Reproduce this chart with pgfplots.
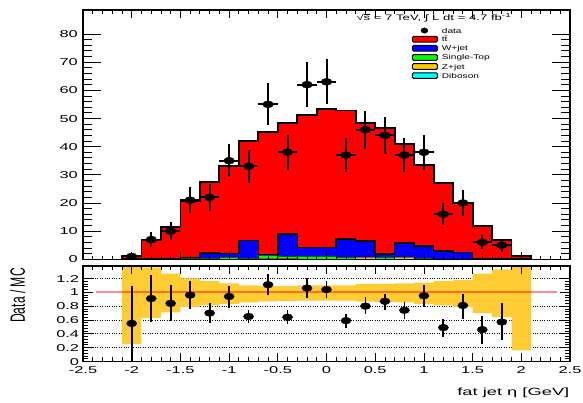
\documentclass[border=0pt]{standalone}
\usepackage{fontspec}
\setmainfont{Liberation Sans}
\newfontfamily\tickfont[FakeStretch=1.65]{Liberation Sans}
\newfontfamily\labfont[FakeStretch=1.75]{Liberation Sans}
\newfontfamily\legfont[FakeStretch=1.45]{Liberation Sans}
\usepackage{graphicx}
\usepackage{pgfplots}
\pgfplotsset{compat=1.18}
\usepackage{pgfplotstable}
\usepgfplotslibrary{fillbetween}

\definecolor{cTT}{RGB}{255,0,0}
\definecolor{cW}{RGB}{0,0,255}
\definecolor{cST}{RGB}{0,255,0}
\definecolor{cZ}{RGB}{255,204,0}
\definecolor{cVV}{RGB}{0,255,255}
\definecolor{cBand}{RGB}{255,204,51}

\pgfplotsset{
  layers/mylayers/.define layer set={axis background,axis grid,pre main,main,axis ticks,axis lines,axis tick labels,axis descriptions,axis foreground}{/pgfplots/layers/standard},
}

% stacked MC: left bin edge, cumulative levels (T = total, L4 = up to W+jet, L3 = up to Single-Top, L2 = up to Z+jet, L1 = Diboson)
\pgfplotstableread{
x     T     L4    L3    L2    L1
-2.1  1.2   0     0     0     0
-1.9  6.9   0     0     0     0
-1.7  11.4  0.1   0.1   0     0
-1.5  20.5  0.4   0.3   0     0
-1.3  27.3  2.3   0.2   0     0
-1.1  33.2  2.1   0.7   0     0
-0.9  41.9  6.7   0.3   0     0
-0.7  45.3  1.5   1.2   0.4   0
-0.5  48.3  8.9   0.9   0.3   0
-0.3  51.2  4.1   1.0   0     0
-0.1  53.3  4.2   1.0   0     0
0.1   52.8  7.2   0.6   0     0
0.3   48.3  6.5   0.7   0.5   0
0.5   46.5  1.8   0.6   0     0
0.7   40.8  5.7   0.6   0.5   0
0.9   33.5  4.8   0.2   0     0
1.1   27.2  2.9   0.1   0     0
1.3   20.1  2.4   0.1   0     0
1.5   11.8  0     0     0     0
1.7   6.9   0     0     0     0
1.9   1.2   0     0     0     0
2.1   1.2   0     0     0     0
}\stack

\pgfplotstableread{
x     y    ex   ey
-2.0  1    0.1  1.00
-1.8  7    0.1  2.65
-1.6  10   0.1  3.16
-1.4  21   0.1  4.58
-1.2  22   0.1  4.69
-1.0  35   0.1  5.92
-0.8  33   0.1  5.74
-0.6  55   0.1  7.42
-0.4  38   0.1  6.16
-0.2  62   0.1  7.87
0.0   63   0.1  7.94
0.2   37   0.1  6.08
0.4   46   0.1  6.78
0.6   44   0.1  6.63
0.8   37   0.1  6.08
1.0   38   0.1  6.16
1.2   16   0.1  4.00
1.4   20   0.1  4.47
1.6   6    0.1  2.45
1.8   5    0.1  2.24
}\data

\pgfplotstableread{
x     y     em    ep
-2.0  0.55  0.55  0.54
-1.8  0.91  0.34  0.34
-1.6  0.84  0.25  0.26
-1.4  0.96  0.20  0.21
-1.2  0.70  0.15  0.14
-1.0  0.94  0.17  0.15
-0.8  0.65  0.10  0.09
-0.6  1.11  0.15  0.15
-0.4  0.64  0.10  0.10
-0.2  1.06  0.14  0.14
0.0   1.04  0.12  0.13
0.2   0.59  0.11  0.10
0.4   0.80  0.12  0.13
0.6   0.87  0.13  0.11
0.8   0.74  0.12  0.12
1.0   0.95  0.16  0.16
1.2   0.49  0.13  0.12
1.4   0.81  0.19  0.17
1.6   0.46  0.20  0.20
1.8   0.57  0.26  0.27
}\ratio

\pgfplotstableread{
x     lo     hi
-2.1  0.25   1.6
-1.9  0.63   1.36
-1.7  0.71   1.27
-1.5  0.79   1.20
-1.3  0.81   1.16
-1.1  0.83   1.13
-0.9  0.855  1.10
-0.7  0.87   1.09
-0.5  0.875  1.09
-0.3  0.88   1.10
-0.1  0.88   1.10
0.1   0.88   1.10
0.3   0.865  1.12
0.5   0.86   1.12
0.7   0.855  1.13
0.9   0.83   1.14
1.1   0.81   1.16
1.3   0.79   1.18
1.5   0.70   1.27
1.7   0.64   1.33
1.9   0.16   1.6
2.1   0.16   1.6
}\band

\begin{document}
\begin{tikzpicture}
% ---------------- top panel ----------------
\begin{axis}[
  set layers=mylayers,
  at={(83bp,143.7bp)}, anchor=south west,
  scale only axis, width=487bp, height=249.3bp,
  xmin=-2.5, xmax=2.5, ymin=0, ymax=88.5,
  xtick={-2.5,-2,-1.5,-1,-0.5,0,0.5,1,1.5,2,2.5}, minor x tick num=4, xticklabels={},
  ytick={0,10,20,30,40,50,60,70,80}, minor y tick num=4,
  yticklabels={0,10,20,30,40,50,60,70,80},
  tick align=inside,
  axis line style={line width=1.2bp, black},
  tick style={black, line width=0.8bp},
  xtick style={/pgfplots/major tick length=7.5bp, /pgfplots/minor tick length=3.75bp},
  ytick style={/pgfplots/major tick length=18bp, /pgfplots/minor tick length=9bp},
  yticklabel style={font=\tickfont\fontsize{10}{12}\selectfont, inner sep=0pt, text height=7.2bp, text depth=0pt, xshift=-5bp},
  legend style={at={(0.675,0.93)}, anchor=north west, draw=none, fill=none, inner sep=0pt,
    row sep=2.4bp, column sep=4bp, font=\legfont\fontsize{7}{8}\selectfont,
    nodes={inner sep=0pt, text height=5bp, text depth=0pt}},
  legend cell align=left,
]
\addlegendimage{legend image code/.code={\path (0bp,0bp) (25bp,0bp); \fill[black] (12bp,0bp) ellipse [x radius=3.4bp, y radius=2.7bp];}}
\addlegendentry{data}
\addlegendimage{legend image code/.code={\draw[fill=cTT, line width=1bp, rounded corners=1.2bp] (0bp,-2.85bp) rectangle (25bp,2.85bp);}}
\addlegendentry{t\={t}}
\addlegendimage{legend image code/.code={\draw[fill=cW, line width=1bp, rounded corners=1.2bp] (0bp,-2.85bp) rectangle (25bp,2.85bp);}}
\addlegendentry{W+jet}
\addlegendimage{legend image code/.code={\draw[fill=cST, line width=1bp, rounded corners=1.2bp] (0bp,-2.85bp) rectangle (25bp,2.85bp);}}
\addlegendentry{Single-Top}
\addlegendimage{legend image code/.code={\draw[fill=cZ, line width=1bp, rounded corners=1.2bp] (0bp,-2.85bp) rectangle (25bp,2.85bp);}}
\addlegendentry{Z+jet}
\addlegendimage{legend image code/.code={\draw[fill=cVV, line width=1bp, rounded corners=1.2bp] (0bp,-2.85bp) rectangle (25bp,2.85bp);}}
\addlegendentry{Diboson}

\addplot[forget plot, const plot, fill=cTT, draw=black, line width=1.8bp] table[x=x, y=T] {\stack} \closedcycle;
\addplot[forget plot, const plot, fill=cW, draw=black, line width=1.5bp] table[x=x, y=L4] {\stack} \closedcycle;
\addplot[forget plot, const plot, fill=cST, draw=black!60!green, line width=1bp] table[x=x, y=L3] {\stack} \closedcycle;
\addplot[forget plot, const plot, fill=cZ, draw=black!50!cZ, line width=1bp] table[x=x, y=L2] {\stack} \closedcycle;
\addplot[forget plot, const plot, fill=cVV, draw=black, line width=1bp] table[x=x, y=L1] {\stack} \closedcycle;

\addplot[forget plot, only marks, black, mark=*, mark size=3.5bp, mark options={xscale=1.55, black},
  error bars/.cd, x dir=both, x explicit, y dir=both, y explicit, error mark=none,
  error bar style={line width=2bp, black}]
  table[x=x, y=y, x error=ex, y error=ey] {\data};
\end{axis}

% ---------------- ratio panel ----------------
\begin{axis}[
  set layers=mylayers,
  at={(83bp,41.5bp)}, anchor=south west,
  scale only axis, width=487bp, height=95.5bp,
  xmin=-2.5, xmax=2.5, ymin=0, ymax=1.38,
  xtick={-2.5,-2,-1.5,-1,-0.5,0,0.5,1,1.5,2,2.5}, minor x tick num=4,
  xticklabels={-2.5,-2,-1.5,-1,-0.5,0,0.5,1,1.5,2,2.5},
  ytick={0,0.2,0.4,0.6,0.8,1,1.2}, minor y tick num=4,
  yticklabels={0,0.2,0.4,0.6,0.8,1,1.2},
  extra y ticks={0.2,0.4,0.6,0.8,1.2}, extra y tick labels={},
  extra y tick style={grid=major, /pgfplots/major tick length=0pt},
  grid style={dotted, black, line width=0.9bp},
  tick align=inside,
  axis line style={line width=1.2bp, black},
  tick style={black, line width=0.8bp},
  xtick style={/pgfplots/major tick length=8bp, /pgfplots/minor tick length=4bp},
  ytick style={/pgfplots/major tick length=10bp, /pgfplots/minor tick length=5bp},
  yticklabel style={font=\tickfont\fontsize{10}{12}\selectfont, inner sep=0pt, text height=7.2bp, text depth=0pt, xshift=-3.7bp},
  xticklabel style={font=\tickfont\fontsize{10}{12}\selectfont, inner sep=0pt, text height=7.2bp, text depth=0pt, yshift=-4.2bp},
]
\addplot[forget plot, name path=hi, const plot, draw=none] table[x=x, y=hi] {\band};
\addplot[forget plot, name path=lo, const plot, draw=none] table[x=x, y=lo] {\band};
\addplot[forget plot, fill=cBand, draw=none] fill between[of=hi and lo];
\addplot[forget plot, red, opacity=0.45, line width=2bp] coordinates {(-2.37,1) (2.37,1)};
\addplot[forget plot, only marks, black, mark=*, mark size=3.4bp, mark options={xscale=1.5, black},
  error bars/.cd, y dir=both, y explicit, error mark=none,
  error bar style={line width=1.8bp, black}]
  table[x=x, y=y, y error plus=ep, y error minus=em] {\ratio};
\end{axis}

% cover lower half of the top panel's "0" label (ratio pad overlaps it)
\fill[white] (55bp,137.6bp) rectangle (82.3bp,143bp);

% texts
\node[anchor=base west, inner sep=0pt] at (356.5bp,382.3bp)
  {\tickfont\fontsize{8}{9}\selectfont √\kern-0.3bp\rlap{\rule[6.3bp]{6.6bp}{0.5bp}}s = 7 TeV, ∫ L dt = 4.7 fb\textsuperscript{-1}};
\node[anchor=base east, inner sep=0pt] at (569.5bp,8bp)
  {\labfont\fontsize{10.5}{12}\selectfont fat jet η [GeV]};
\node[rotate=90, inner sep=0pt] at (17.5bp,107.5bp)
  {\scalebox{1}[1.7]{\fontsize{12.2}{14}\selectfont Data / MC}};

\pgfresetboundingbox
\path[use as bounding box] (0bp,0bp) rectangle (583bp,403bp);
\end{tikzpicture}
\end{document}
